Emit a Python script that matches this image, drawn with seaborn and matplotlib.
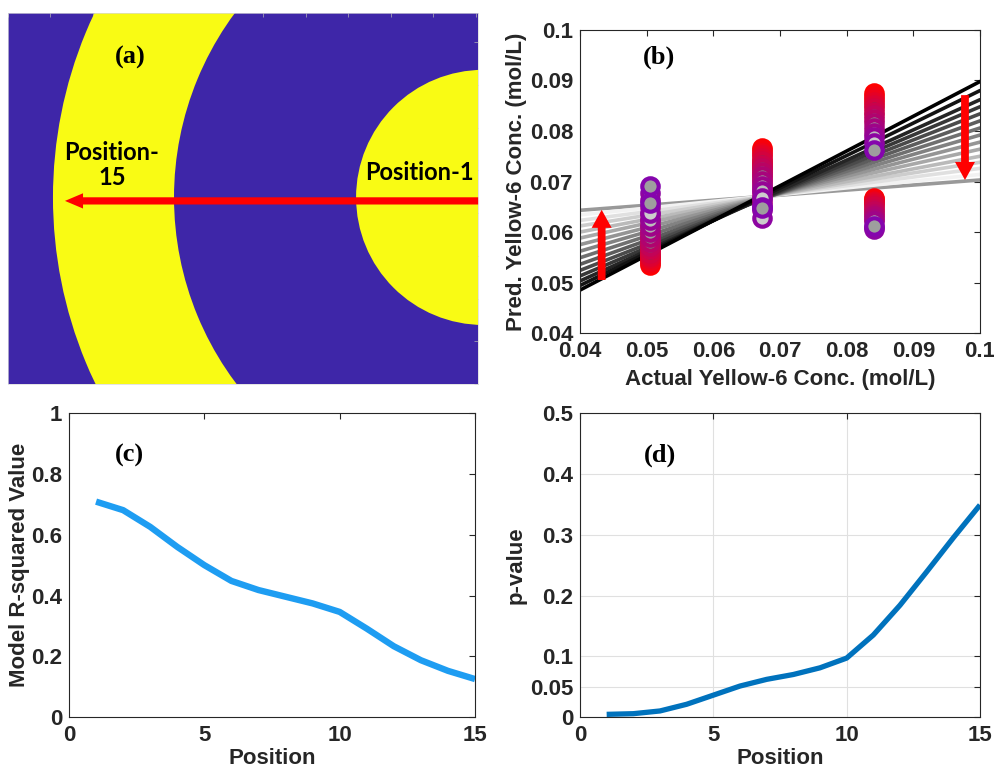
import numpy as np
import pandas as pd
import matplotlib
matplotlib.use("Agg")
import matplotlib.pyplot as plt
from matplotlib.patches import Circle, Wedge
from matplotlib.ticker import MultipleLocator
import seaborn as sns

# ---- data ----
positions = list(range(1, 16))
r_squared = [0.709, 0.681, 0.626, 0.560, 0.500, 0.448, 0.418, 0.396,
             0.374, 0.346, 0.291, 0.233, 0.187, 0.152, 0.125]
p_values = [0.0044, 0.0055, 0.010, 0.021, 0.036, 0.051, 0.062, 0.070,
            0.081, 0.097, 0.135, 0.184, 0.239, 0.295, 0.349]

actual_conc = [0.0505, 0.0673, 0.0841]
# predicted concentration, two replicate samples per actual concentration, positions 1..15
pred_low_a = [0.0534, 0.0538, 0.0543, 0.0548, 0.0553, 0.0559, 0.0566, 0.0573,
              0.0581, 0.0590, 0.0600, 0.0611, 0.0623, 0.0638, 0.0658]
pred_low_b = [0.0548, 0.0553, 0.0559, 0.0566, 0.0573, 0.0581, 0.0590, 0.0600,
              0.0611, 0.0623, 0.0636, 0.0650, 0.0664, 0.0678, 0.0691]
pred_mid_a = [0.0766, 0.0762, 0.0757, 0.0752, 0.0746, 0.0740, 0.0733, 0.0726,
              0.0718, 0.0710, 0.0701, 0.0692, 0.0682, 0.0668, 0.0650]
pred_mid_b = [0.0740, 0.0735, 0.0729, 0.0722, 0.0715, 0.0707, 0.0699, 0.0690,
              0.0681, 0.0672, 0.0662, 0.0653, 0.0643, 0.0628, 0.0647]
pred_high_a = [0.0875, 0.0870, 0.0864, 0.0858, 0.0852, 0.0845, 0.0838, 0.0831,
               0.0823, 0.0815, 0.0806, 0.0797, 0.0788, 0.0776, 0.0762]
pred_high_b = [0.0667, 0.0665, 0.0662, 0.0659, 0.0655, 0.0651, 0.0646, 0.0641,
               0.0636, 0.0631, 0.0626, 0.0621, 0.0609, 0.0606, 0.0612]

# regression line of predicted vs actual for each position
fit_slope = [0.6883, 0.6433, 0.5983, 0.5583, 0.5167, 0.4733, 0.4283, 0.3833,
             0.3383, 0.2933, 0.2500, 0.2100, 0.1717, 0.1333, 0.1000]
fit_intercept = [0.02097, 0.02367, 0.02637, 0.02897, 0.03173, 0.03467, 0.03777, 0.04087,
                 0.04397, 0.04707, 0.05000, 0.05280, 0.05543, 0.05807, 0.06030]

# panel (a) geometry, in image units (x right, y up)
image_size = [470, 371]
circle_center = [475.5, 186.5]
core_radius = 127.5
ring_radii = [309.5, 430.5]

# ---- style ----
sns.set_style("white")
plt.rcParams["font.family"] = ["Liberation Sans", "DejaVu Sans"]
plt.rcParams["font.weight"] = "bold"
plt.rcParams["axes.labelweight"] = "bold"

TXT = "0.15"
BLUE_DARK = (0.243, 0.150, 0.660)
YELLOW = (0.976, 0.984, 0.080)
TICK_FS = 16
LABEL_FS = 16

fig = plt.figure(figsize=(9.94, 7.75), dpi=100)


def style_axes(ax):
    for sp in ax.spines.values():
        sp.set_visible(True)
        sp.set_color(TXT)
        sp.set_linewidth(0.8)
    ax.tick_params(direction="in", length=4, width=0.8, top=True, right=True,
                   labelsize=TICK_FS, colors=TXT)
    ax.tick_params(axis="x", pad=6)
    ax.tick_params(axis="y", pad=5)
    for lab in ax.get_xticklabels() + ax.get_yticklabels():
        lab.set_fontweight("bold")


# ---- (a) schematic ----
ax_a = fig.add_axes([0.008, 0.5045, 0.473, 0.479])
ax_a.set_facecolor(BLUE_DARK)
ax_a.set_xlim(0, image_size[0])
ax_a.set_ylim(0, image_size[1])
ax_a.add_patch(Wedge(circle_center, ring_radii[1], 0, 360,
                     width=ring_radii[1] - ring_radii[0], color=YELLOW, lw=0))
ax_a.add_patch(Circle(circle_center, core_radius, color=YELLOW, lw=0))
ax_a.xaxis.set_major_locator(MultipleLocator(42.5))
ax_a.yaxis.set_major_locator(MultipleLocator(42.7))
ax_a.tick_params(direction="in", length=3, width=0.5, colors="0.7",
                 top=True, right=True, labelbottom=False, labelleft=False)
for sp in ax_a.spines.values():
    sp.set_visible(True)
    sp.set_color("0.85")
    sp.set_linewidth(0.5)
ax_a.annotate("", xy=(57, 183), xytext=(image_size[0], 183),
              arrowprops=dict(arrowstyle="simple,head_length=0.65,head_width=0.55,tail_width=0.26",
                              color="red", lw=0, shrinkA=0, shrinkB=0, mutation_scale=20))
ax_a.text(122, 326, "(a)", family="Liberation Serif", fontsize=19, fontweight="bold",
          ha="center", va="center", color="black")
ax_a.text(104, 219, "Position-\n15", family="Lato", fontsize=17, fontweight="bold",
          ha="center", va="center", color="black", linespacing=1.1)
ax_a.text(411, 211, "Position-1", family="Lato", fontsize=17, fontweight="bold",
          ha="center", va="center", color="black")

# ---- (b) predicted vs actual ----
ax_b = fig.add_axes([0.5835, 0.5703, 0.4024, 0.391])
n_pos = len(positions)
line_gray = [0.95 * i / (n_pos - 2) for i in range(n_pos - 1)] + [0.6]
face_gray = [0.8 * i / (n_pos - 2) for i in range(n_pos - 1)] + [0.62]
red = np.array([1.0, 0.0, 0.0])
purple = np.array([0.52, 0.02, 0.68])
edge_cols = [tuple(red + (purple - red) * i / (n_pos - 1)) for i in range(n_pos)]

for i in reversed(range(n_pos)):
    g = line_gray[i]
    ax_b.axline((0, fit_intercept[i]), slope=fit_slope[i], color=(g, g, g),
                lw=2.6, zorder=2)

pred_series = [pred_low_a, pred_low_b, pred_mid_a, pred_mid_b, pred_high_a, pred_high_b]
series_conc = [actual_conc[0], actual_conc[0], actual_conc[1], actual_conc[1],
               actual_conc[2], actual_conc[2]]
for i in range(n_pos):
    g = face_gray[i]
    pts = pd.DataFrame({"actual": series_conc,
                        "pred": [s[i] for s in pred_series]})
    sns.scatterplot(data=pts, x="actual", y="pred", ax=ax_b, s=140,
                    color=(g, g, g), edgecolor=edge_cols[i], linewidth=3.0,
                    zorder=3 + i, legend=False)

ax_b.set_xlim(0.04, 0.1)
ax_b.set_ylim(0.04, 0.1)
ticks_b = [0.04, 0.05, 0.06, 0.07, 0.08, 0.09, 0.1]
tick_lab_b = ["0.04", "0.05", "0.06", "0.07", "0.08", "0.09", "0.1"]
ax_b.set_xticks(ticks_b, tick_lab_b)
ax_b.set_yticks(ticks_b, tick_lab_b)
ax_b.set_xlabel("Actual Yellow-6 Conc. (mol/L)", fontsize=LABEL_FS, color=TXT, labelpad=5)
ax_b.set_ylabel("Pred. Yellow-6 Conc. (mol/L)", fontsize=LABEL_FS, color=TXT, labelpad=2)
style_axes(ax_b)
ax_b.annotate("", xy=(0.04325, 0.0644), xytext=(0.04325, 0.0505),
              arrowprops=dict(arrowstyle="simple,head_length=0.65,head_width=0.72,tail_width=0.28",
                              color="red", lw=0, shrinkA=0, shrinkB=0, mutation_scale=20),
              zorder=30)
ax_b.annotate("", xy=(0.09775, 0.0703), xytext=(0.09775, 0.0871),
              arrowprops=dict(arrowstyle="simple,head_length=0.65,head_width=0.72,tail_width=0.28",
                              color="red", lw=0, shrinkA=0, shrinkB=0, mutation_scale=20),
              zorder=30)
ax_b.text(0.0519, 0.0945, "(b)", family="Liberation Serif", fontsize=19,
          fontweight="bold", ha="center", va="center", color="black")

# ---- (c) R-squared vs position ----
ax_c = fig.add_axes([0.0694, 0.0748, 0.4085, 0.392])
sns.lineplot(x=positions, y=r_squared, ax=ax_c, color="#1E9DF2", lw=4.6,
             solid_capstyle="butt")
ax_c.set_xlim(0, 15)
ax_c.set_ylim(0, 1)
ax_c.set_xticks([0, 5, 10, 15], ["0", "5", "10", "15"])
ax_c.set_yticks([0, 0.2, 0.4, 0.6, 0.8, 1], ["0", "0.2", "0.4", "0.6", "0.8", "1"])
ax_c.set_xlabel("Position", fontsize=LABEL_FS, color=TXT, labelpad=1)
ax_c.set_ylabel("Model R-squared Value", fontsize=LABEL_FS, color=TXT, labelpad=1)
style_axes(ax_c)
ax_c.text(2.25, 0.862, "(c)", family="Liberation Serif", fontsize=19,
          fontweight="bold", ha="center", va="center", color="black")

# ---- (d) p-value vs position ----
ax_d = fig.add_axes([0.5835, 0.0748, 0.4024, 0.392])
sns.lineplot(x=positions, y=p_values, ax=ax_d, color="#0072BD", lw=3.8,
             solid_capstyle="butt")
ax_d.set_xlim(0, 15)
ax_d.set_ylim(0, 0.5)
ax_d.set_xticks([0, 5, 10, 15], ["0", "5", "10", "15"])
ax_d.set_yticks([0, 0.05, 0.1, 0.2, 0.3, 0.4, 0.5],
                ["0", "0.05", "0.1", "0.2", "0.3", "0.4", "0.5"])
ax_d.grid(True, color="0.88", lw=0.8)
ax_d.set_axisbelow(True)
ax_d.set_xlabel("Position", fontsize=LABEL_FS, color=TXT, labelpad=1)
ax_d.set_ylabel("p-value", fontsize=LABEL_FS, color=TXT, labelpad=2)
style_axes(ax_d)
ax_d.text(3.0, 0.431, "(d)", family="Liberation Serif", fontsize=19,
          fontweight="bold", ha="center", va="center", color="black")

fig.savefig("out.png", dpi=100, facecolor="white")
